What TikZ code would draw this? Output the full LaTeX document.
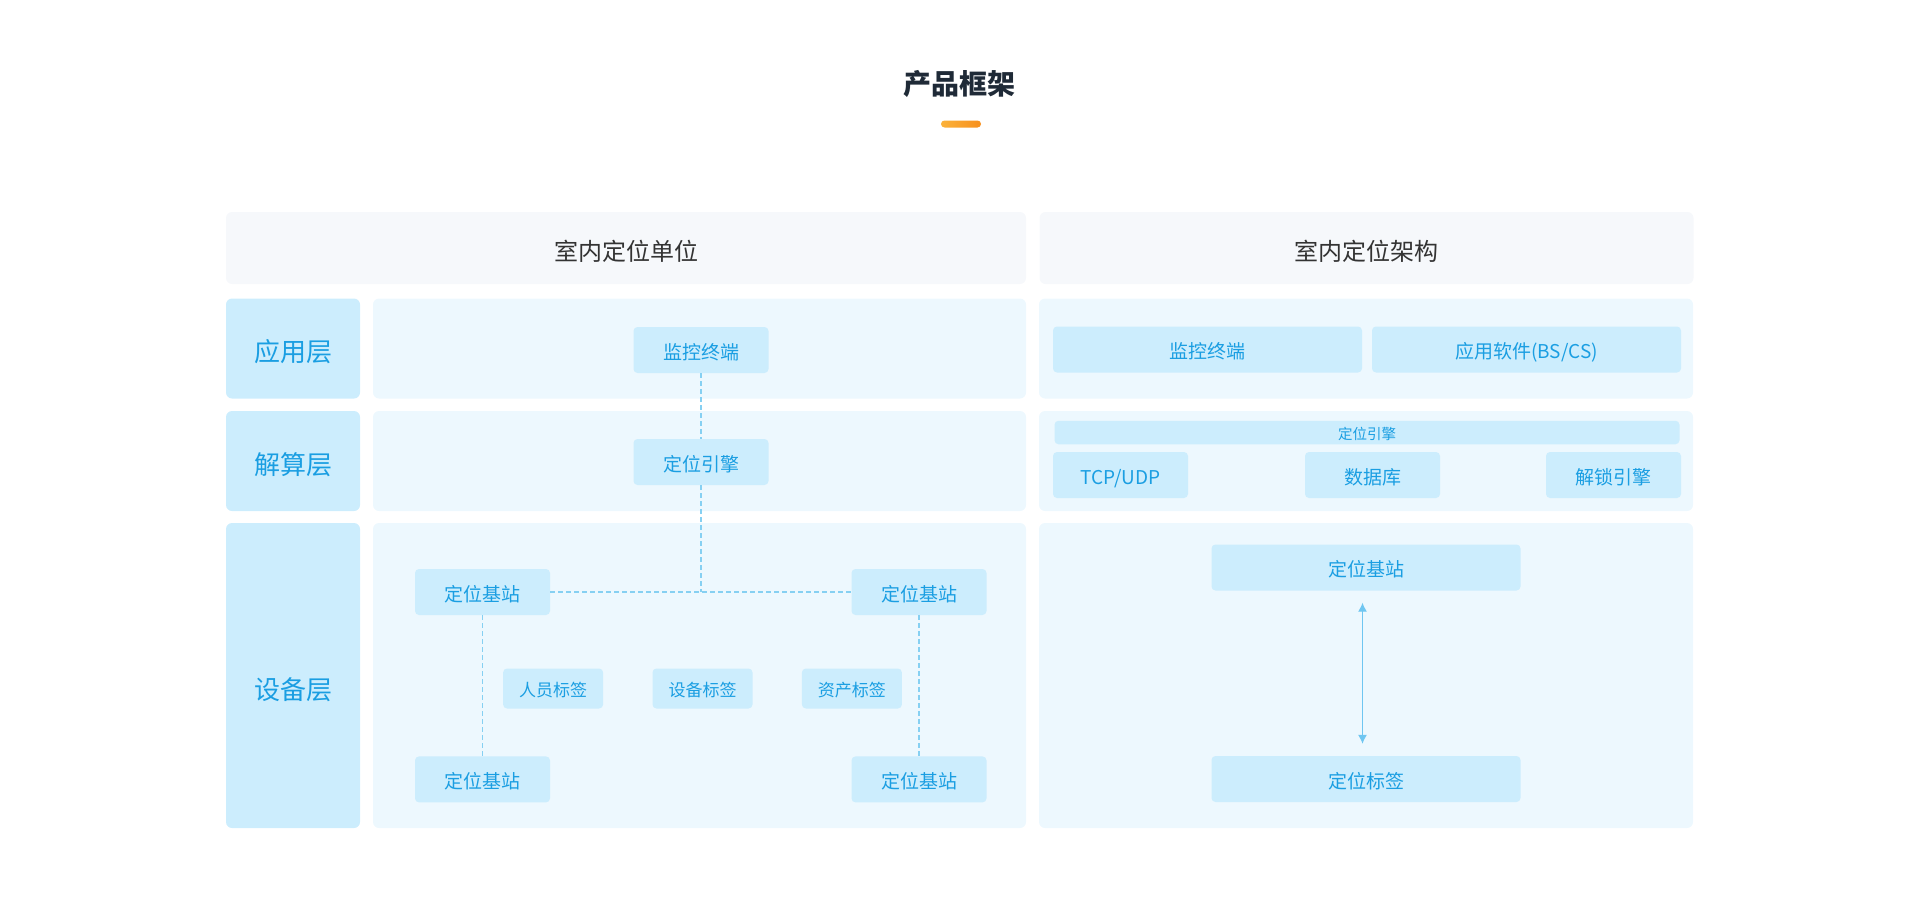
\documentclass[tikz,border=0pt]{standalone}
\usepackage{fontspec}
\setmainfont{Noto Sans CJK SC}
\usepackage{tikz}
\usetikzlibrary{positioning, arrows.meta}

\definecolor{titlecol}{HTML}{1F2A37}
\definecolor{barleft}{HTML}{FBB23A}
\definecolor{barright}{HTML}{F7901E}
\definecolor{headfill}{HTML}{F6F8FB}
\definecolor{headtext}{HTML}{333333}
\definecolor{panefill}{HTML}{EDF8FE}
\definecolor{cellfill}{HTML}{CCEDFD}
\definecolor{celltext}{HTML}{1A9EE2}
\definecolor{dashcol}{HTML}{86D0F2}
\definecolor{arrowcol}{HTML}{6FC6F1}

\begin{document}
\begin{tikzpicture}[x = 1pt, y = -1pt,
    every node/.style = { inner sep = 0pt, align = center },
    headbox/.style = { fill = headfill, rounded corners = 6pt, minimum height = 72pt, text = headtext, font = \fontsize{24}{28}\selectfont, text height = 24pt, text depth = 0pt },
    layerbox/.style = { fill = cellfill, rounded corners = 6pt, minimum width = 134pt, text = celltext, font = \fontsize{26}{30}\selectfont, text height = 26pt, text depth = 0pt },
    panebox/.style = { fill = panefill, rounded corners = 6pt },
    cell/.style = { fill = cellfill, rounded corners = 4pt, minimum height = 46pt, text = celltext, font = \fontsize{19}{22}\selectfont, text height = 18pt, text depth = 0pt },
    tagcell/.style = { cell, minimum width = 100pt, minimum height = 40pt, font = \fontsize{17}{20}\selectfont, text height = 16pt },
    link/.style = { draw = dashcol, line width = 1.2pt, dash pattern = on 5pt off 3pt }]

    \useasboundingbox (0,0) rectangle (1920,900);

    \node [font = \bfseries\fontsize{28}{32}\selectfont, text = titlecol] (title) at (959,84) {产品框架};
    \node [minimum width = 40pt, minimum height = 7pt, rounded corners = 3.5pt, left color = barleft, right color = barright] (bar) at (961,124) {};

    \node [headbox, minimum width = 800pt] (unit) at (626,248) {室内定位单位};
    \node [headbox, minimum width = 654pt] (arch) at (1366.5,248) {室内定位架构};

    \node [layerbox, minimum height = 100pt] (app) at (293,348.5) {应用层};
    \node [layerbox, minimum height = 100pt] (calc) at (293,461) {解算层};
    \node [layerbox, minimum height = 305pt, text height = 48pt] (dev) at (293,675.5) {设备层};

    \node [panebox, minimum width = 653pt, minimum height = 100pt] (appL) at (699.5,348.5) {};
    \node [panebox, minimum width = 653pt, minimum height = 100pt] (calcL) at (699.5,461) {};
    \node [panebox, minimum width = 653pt, minimum height = 305pt] (devL) at (699.5,675.5) {};
    \node [panebox, minimum width = 654pt, minimum height = 100pt] (appR) at (1366,348.5) {};
    \node [panebox, minimum width = 654pt, minimum height = 100pt] (calcR) at (1366,461) {};
    \node [panebox, minimum width = 654pt, minimum height = 305pt] (devR) at (1366,675.5) {};

    \node [cell, minimum width = 135pt] (mon) at (701,350) {监控终端};
    \node [cell, minimum width = 135pt] (eng) at (701,462) {定位引擎};
    \node [cell, minimum width = 135pt] (stA) at (482.5,592) {定位基站};
    \node [cell, minimum width = 135pt] (stB) at (919,592) {定位基站};
    \node [cell, minimum width = 135pt, below = 141pt of stA] (stC) {定位基站};
    \node [cell, minimum width = 135pt, below = 141pt of stB] (stD) {定位基站};
    \node [tagcell] (tagB) at (702.5,688.5) {设备标签};
    \node [tagcell, left = 49pt of tagB] (tagA) {人员标签};
    \node [tagcell, right = 49pt of tagB] (tagC) {资产标签};

    \draw [link] (mon) -- (eng);
    \draw [link] (eng.south) -- (eng.south |- stA.east);
    \draw [link] (stA) -- (stB);
    \draw [link] (stA) -- (stC);
    \draw [link] (stB) -- (stD);

    \node [cell, minimum width = 309pt] (monR) at (1207.5,349.5) {监控终端};
    \node [cell, minimum width = 309pt] (soft) at (1526.5,349.5) {应用软件(BS/CS)};
    \node [cell, minimum width = 625pt, minimum height = 23.5pt, font = \fontsize{14.5}{16}\selectfont, text height = 14pt] (engR) at (1367,432.5) {定位引擎};
    \node [cell, minimum width = 135pt] (tcp) at (1120.5,475) {TCP/UDP};
    \node [cell, minimum width = 135pt] (db) at (1372.5,475) {数据库};
    \node [cell, minimum width = 135pt] (unlock) at (1613.5,475) {解锁引擎};
    \node [cell, minimum width = 309pt] (base) at (1366,567.5) {定位基站};
    \node [cell, minimum width = 309pt] (tag) at (1366,779) {定位标签};

    \draw [arrowcol, line width = 1.2pt, {Latex[length=9pt,width=9pt]}-{Latex[length=9pt,width=9pt]}, shorten <= 12pt, shorten >= 12pt] ([xshift=-3.5pt]base.south) -- ([xshift=-3.5pt]tag.north);

\end{tikzpicture}
\end{document}
